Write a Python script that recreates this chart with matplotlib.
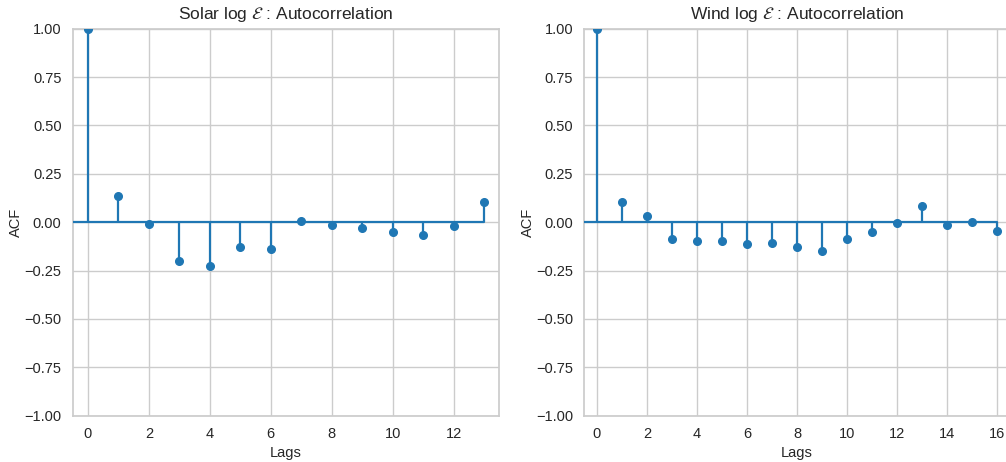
import matplotlib
matplotlib.use("Agg")
import matplotlib.pyplot as plt
import numpy as np
import seaborn as sns

sns.set_theme(style="whitegrid")
plt.rcParams['font.family'] = ['Liberation Sans', 'DejaVu Sans']
plt.rcParams['mathtext.fontset'] = 'dejavusans'

# autocorrelation values per lag
solar_acf = [1.0, 0.133, -0.007, -0.200, -0.226, -0.128, -0.140, 0.004,
             -0.016, -0.028, -0.052, -0.064, -0.022, 0.104]
wind_acf = [1.0, 0.102, 0.033, -0.088, -0.098, -0.097, -0.114, -0.110,
            -0.126, -0.147, -0.085, -0.050, -0.003, 0.085, -0.012, 0.002, -0.043]
titles = [r"Solar log $\mathcal{E}$ : Autocorrelation",
          r"Wind log $\mathcal{E}$ : Autocorrelation"]

blue = "#1f77b4"
fig = plt.figure(figsize=(10.06, 4.62), dpi=100)
ax1 = fig.add_axes([72.7 / 1006, 46.3 / 462, 426.6 / 1006, 387 / 462])
ax2 = fig.add_axes([584.3 / 1006, 46.3 / 462, 425.5 / 1006, 387 / 462])

for ax, acf, title in zip([ax1, ax2], [solar_acf, wind_acf], titles):
    lags = np.arange(len(acf))
    ax.set_xlim(-0.5, lags[-1] + 0.5)
    ax.set_ylim(-1, 1)
    ax.vlines(lags, 0, acf, color=blue, lw=1.6, zorder=3)
    ax.plot(lags, acf, "o", color=blue, ms=5.5, zorder=4)
    ax.plot([-0.5, lags[-1]], [0, 0], color=blue, lw=1.6, zorder=3)
    ax.set_yticks(np.arange(-1, 1.01, 0.25))
    ax.set_yticklabels([f"{v:.2f}".replace("-", "\u2212") for v in np.arange(-1, 1.01, 0.25)])
    ax.set_xticks(np.arange(0, lags[-1] + 1, 2))
    ax.tick_params(labelsize=10.5, colors="#262626", length=0, pad=8)
    ax.set_xlabel("Lags", fontsize=10.5, color="#262626", labelpad=4)
    ax.set_ylabel("ACF", fontsize=10.5, color="#262626", labelpad=1)
    ax.set_title(title, fontsize=12.5, color="#262626", pad=7)
    for s in ax.spines.values():
        s.set_color("#cccccc")

fig.savefig("out.png", dpi=100)
